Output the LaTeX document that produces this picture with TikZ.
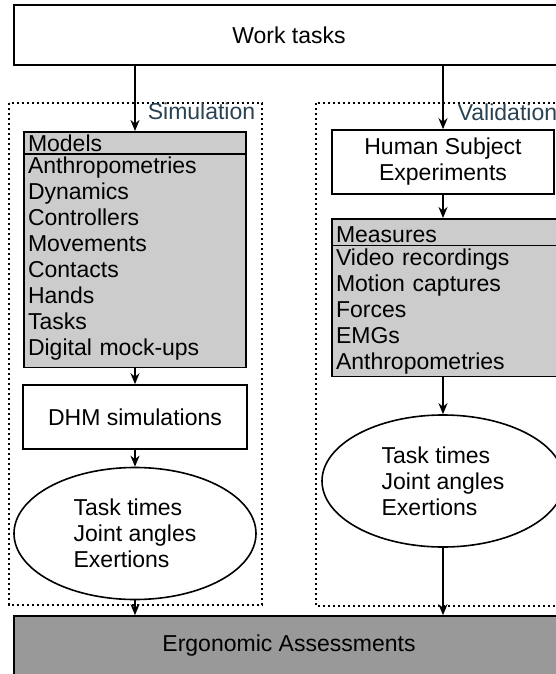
\documentclass[tikz,border=0pt]{standalone}
\usepackage{fontspec}
\setmainfont{Liberation Sans}
\usetikzlibrary{shapes.geometric, shapes.multipart, arrows.meta, positioning}
\definecolor{panel-gray}{HTML}{CCCCCC}
\definecolor{result-gray}{HTML}{999999}
\definecolor{label-blue}{HTML}{2B4252}

\begin{document}
\begin{tikzpicture}[x=1pt, y=-1pt, line width=1.6pt,
    font=\fontsize{23}{26}\selectfont,
    block/.style={draw, rectangle, align=center, inner sep=0pt},
    listbox/.style={draw, rectangle split, rectangle split parts=2, fill=panel-gray,
        text width=214pt, align=left, inner xsep=4pt, inner ysep=2pt},
    outcome/.style={draw, ellipse, align=left, minimum width=242pt, minimum height=132pt, inner sep=0pt},
    frame/.style={line width=1.3pt, dash pattern=on 2.4pt off 2.6pt},
    flow/.style={-{Stealth[length=11pt, width=9pt, inset=3.5pt]}}]
    \useasboundingbox (0,0) rectangle (556,674);
    \clip (0,0) rectangle (556,674);

    % Top and bottom bars
    \node[block, minimum width=550pt, minimum height=60pt] (work) at (289,35) {Work tasks};
    \node[block, fill=result-gray, minimum width=550pt, minimum height=60pt] (ergo) at (289,646) {Ergonomic Assessments};

    % Simulation branch
    \draw[frame] (9,103) rectangle (262,605);
    \node[anchor=base east, text=label-blue, inner sep=0pt] (simlabel) at (256,120) {Simulation};

    \node[listbox, anchor=north] (models) at (135,131) {Models
        \nodepart{two} Anthropometries\\Dynamics\\Controllers\\Movements\\Contacts\\Hands\\Tasks\\Digital mock-ups\rule[-9pt]{0pt}{9pt}};
    \node[block, minimum width=224pt, minimum height=64pt] (dhm) at (135,417) {DHM simulations};
    \node[outcome] (simout) at (135,533.5) {Task times\\Joint angles\\Exertions};

    % Validation branch
    \draw[frame] (316,103) rectangle (570,606);
    \node[anchor=base west, text=label-blue, inner sep=0pt] (vallabel) at (457,121) {Validation};

    \node[block, minimum width=222pt, minimum height=64pt] (subjects) at (443,162) {Human Subject\\Experiments};
    \node[listbox, text width=222pt, anchor=north] (measures) at (447,218) {\rule{0pt}{21pt}Measures
        \nodepart{two} Video recordings\\Motion captures\\Forces\\EMGs\\Anthropometries};
    \node[outcome] (valout) at (443,481) {Task times\\Joint angles\\Exertions};

    % Connectors
    \draw[flow] (work.south -| models.north) -- (models.north);
    \draw[flow] (models.south) -- (dhm.north);
    \draw[flow] (dhm.south) -- (simout.north);
    \draw[flow] (simout.south) -- (ergo.north -| simout.south);

    \draw[flow] (work.south -| subjects.north) -- (subjects.north);
    \draw[flow] (subjects.south) -- (measures.north -| subjects.south);
    \draw[flow] (measures.south -| valout.north) -- (valout.north);
    \draw[flow] (valout.south) -- (ergo.north -| valout.south);
\end{tikzpicture}
\end{document}
